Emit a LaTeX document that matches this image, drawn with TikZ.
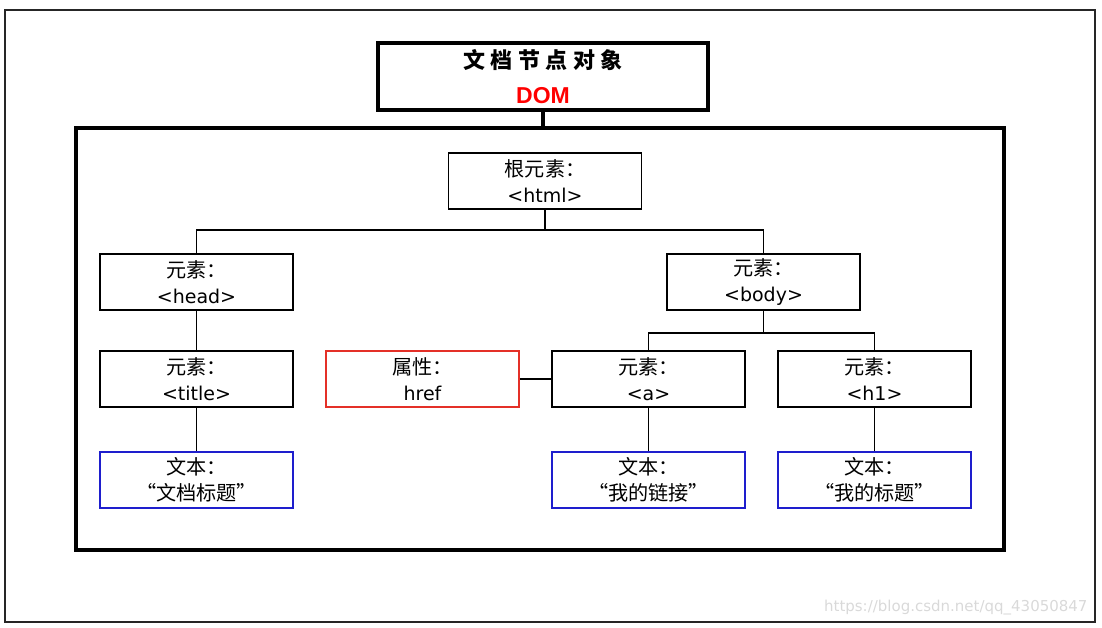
\documentclass[tikz,border=0pt]{standalone}
\usepackage{fontspec}
\setmainfont{DejaVu Sans}
\newfontfamily\cjk[Scale=1.06]{Noto Sans CJK SC}
\newfontfamily\titlefont[LetterSpace=25]{Noto Sans CJK SC}
\newfontfamily\domfont{Liberation Sans}
\definecolor{attrred}{RGB}{228,48,40}
\definecolor{txtblue}{RGB}{30,30,205}

\begin{document}
\begin{tikzpicture}[x=1pt, y=-1pt,
    elem/.style={draw, line width=1.8pt, minimum width=193pt, minimum height=56pt,
        inner sep=0pt, align=center, font=\fontsize{19}{26}\selectfont},
    attr/.style={elem, draw=attrred},
    txt/.style={elem, draw=txtblue},
    link/.style={line width=1.8pt}]
    \useasboundingbox (0,0) rectangle (1102,628);
    % page frame
    \draw[line width=1.2pt, black!85] (5,10) rectangle (1095,622);

    % title and outer box
    \node[draw, line width=3.5pt, minimum width=330pt, minimum height=67pt,
        align=center, inner sep=0pt] (dom) at (543,76.5)
        {{\titlefont\bfseries\fontsize{22}{22}\selectfont 文档节点对象}\\[16pt]
         {\domfont\bfseries\fontsize{23}{23}\selectfont\color{red}DOM}};
    \node[draw, line width=3.5pt, minimum width=928pt, minimum height=422pt] (frame) at (540,339) {};
    \draw[line width=3.5pt] (dom.south) -- (dom.south |- frame.north);

    % tree
    \node[elem] (root) at (545,181) {{\cjk 根元素：}\\<html>};
    \node[elem] (head) at (196.5,282) {{\cjk 元素：}\\<head>};
    \node[elem] (body) at (763.5,282) {{\cjk 元素：}\\<body>};
    \node[elem] (title) at (196.5,379) {{\cjk 元素：}\\<title>};
    \node[attr] (href) at (422.5,379) {{\cjk 属性：}\\href};
    \node[elem] (a) at (648.5,379) {{\cjk 元素：}\\<a>};
    \node[elem] (h1) at (874.5,379) {{\cjk 元素：}\\<h1>};
    \node[txt] (t1) at (196.5,480) {{\cjk 文本：}\\{\cjk “文档标题”}};
    \node[txt] (t2) at (648.5,480) {{\cjk 文本：}\\{\cjk “我的链接”}};
    \node[txt] (t3) at (874.5,480) {{\cjk 文本：}\\{\cjk “我的标题”}};

    \coordinate (fork1) at (545,230);
    \coordinate (fork2) at (763.5,333);
    \draw[link] (root.south) -- (fork1);
    \draw[link] (head.north) |- (fork1) -| (body.north);
    \draw[link] (body.south) -- (fork2);
    \draw[link] (a.north) |- (fork2) -| (h1.north);
    \draw[link] (head) -- (title);
    \draw[link] (title) -- (t1);
    \draw[link] (href) -- (a);
    \draw[link] (a) -- (t2);
    \draw[link] (h1) -- (t3);

    \node[anchor=east, text=gray!30, font=\fontsize{15}{15}\selectfont] (mark) at (1091,608)
        {https://blog.csdn.net/qq\_43050847};
\end{tikzpicture}
\end{document}
